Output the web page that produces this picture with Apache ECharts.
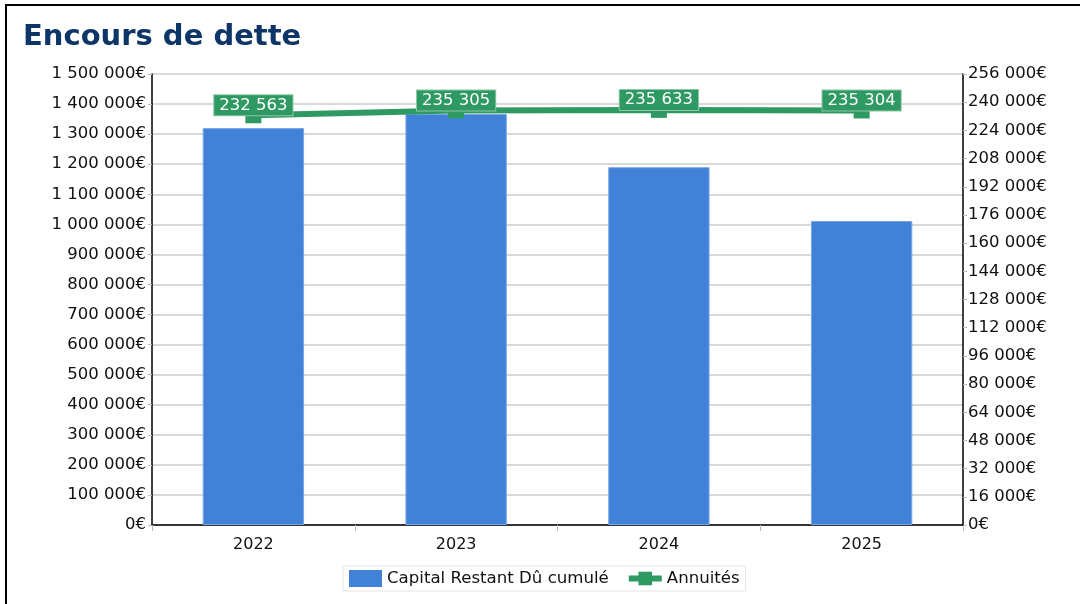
<!DOCTYPE html>
<html>
<head>
<meta charset="utf-8">
<script src="https://cdn.jsdelivr.net/npm/echarts@6/dist/echarts.min.js"></script>
<style>
  html, body { margin: 0; padding: 0; background: #fff; }
  #frame { position: absolute; left: 5px; top: 4px; width: 1080px; height: 604px;
           border-top: 2px solid #000; border-left: 2px solid #000; box-sizing: border-box; }
  #chart { position: absolute; left: 0; top: 0; width: 1080px; height: 604px; }
</style>
</head>
<body>
<div id="frame"></div>
<div id="chart"></div>
<script>
// Years shown on the category axis
const years = ['2022', '2023', '2024', '2025'];
// Outstanding capital (left axis, €)
const capitalRestant = [1320000, 1367000, 1190000, 1011000];
// Yearly repayments (right axis, €)
const annuites = [232563, 235305, 235633, 235304];

const FONT = 'DejaVu Sans';
const GREEN = '#2f9963';
const BLUE = '#4182d8';

function spaced(v) {
  return String(Math.round(v)).replace(/\B(?=(\d{3})+(?!\d))/g, ' ');
}
function euro(v) { return spaced(v) + '€'; }

const chart = echarts.init(document.getElementById('chart'));
chart.setOption({
  animation: false,
  textStyle: { fontFamily: FONT },
  title: {
    text: 'Encours de dette',
    left: 18, top: 18,
    textStyle: { fontFamily: FONT, fontSize: 29, fontWeight: 'bold', color: '#0d3567' }
  },
  grid: { left: 152, right: 117, top: 74, bottom: 79 },
  legend: {
    left: 343, top: 566,
    itemWidth: 33, itemHeight: 17, itemGap: 17,
    borderColor: '#e6e6e6', borderWidth: 1, padding: [4, 6],
    textStyle: { fontFamily: FONT, fontSize: 16.6, color: '#111' },
    data: [
      { name: 'Capital Restant Dû cumulé', icon: 'rect', itemStyle: { color: BLUE, borderWidth: 0 } },
      { name: 'Annuités', itemStyle: { color: GREEN }, lineStyle: { color: GREEN, width: 6 } }
    ]
  },
  xAxis: {
    type: 'category',
    data: years,
    axisLine: { lineStyle: { color: '#000', width: 1.5 } },
    axisTick: { show: true, length: 6, lineStyle: { color: '#bbb' } },
    axisLabel: { fontFamily: FONT, fontSize: 16, color: '#111', margin: 12 }
  },
  yAxis: [
    {
      type: 'value', min: 0, max: 1500000, interval: 100000, position: 'left',
      axisLine: { show: true, lineStyle: { color: '#000', width: 1.5 } },
      axisTick: { show: true, length: 4, lineStyle: { color: '#bbb' } },
      axisLabel: { fontFamily: FONT, fontSize: 16.5, color: '#111', margin: 6, formatter: euro },
      splitLine: { lineStyle: { color: '#cccccc', width: 1.5 } }
    },
    {
      type: 'value', min: 0, max: 256000, interval: 16000, position: 'right',
      axisLine: { show: true, lineStyle: { color: '#000', width: 1.5 } },
      axisTick: { show: true, length: 4, lineStyle: { color: '#bbb' } },
      axisLabel: { fontFamily: FONT, fontSize: 16.5, color: '#111', margin: 5, formatter: euro },
      splitLine: { show: false }
    }
  ],
  series: [
    {
      name: 'Capital Restant Dû cumulé',
      type: 'bar',
      yAxisIndex: 0,
      data: capitalRestant,
      barWidth: '50%',
      itemStyle: { color: BLUE, borderColor: '#7aa8e6', borderWidth: 1 }
    },
    {
      name: 'Annuités',
      type: 'line',
      yAxisIndex: 1,
      data: annuites,
      symbol: 'rect',
      symbolSize: 16,
      lineStyle: { color: GREEN, width: 6 },
      itemStyle: { color: GREEN },
      label: {
        show: true,
        position: 'inside',
        offset: [0, -10],
        formatter: p => spaced(p.value),
        fontFamily: FONT, fontSize: 16.5, color: '#fff',
        backgroundColor: GREEN,
        borderColor: '#8cc8a8', borderWidth: 1,
        padding: [2, 5, 1, 5]
      },
      z: 5
    }
  ]
});
</script>
</body>
</html>
